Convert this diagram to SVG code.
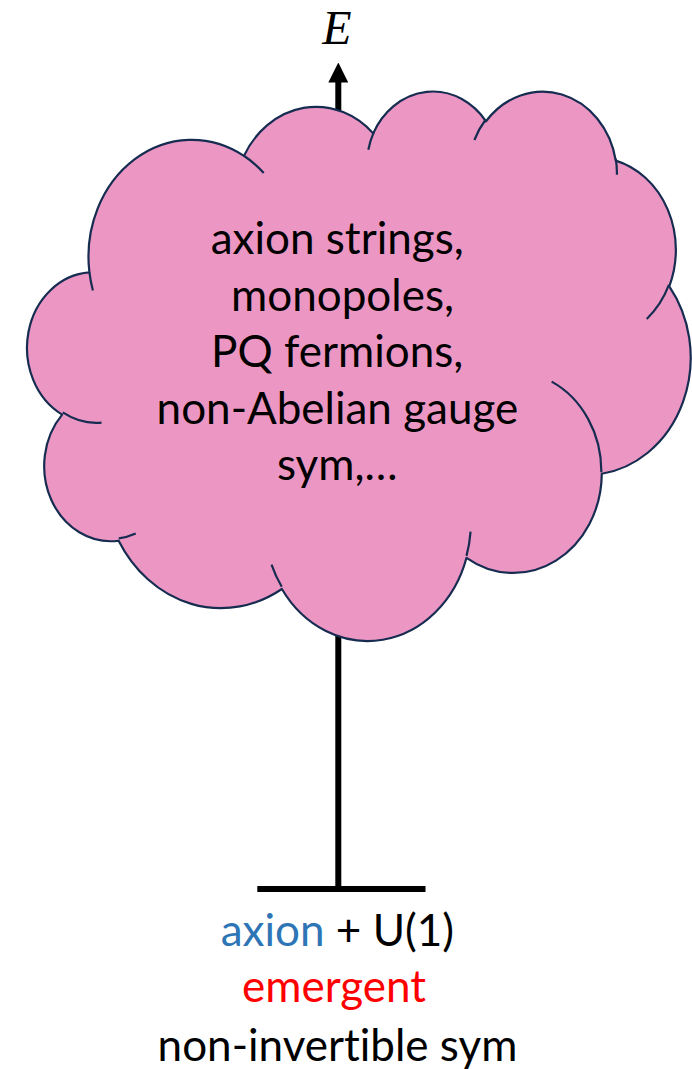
<svg xmlns="http://www.w3.org/2000/svg" width="692" height="1069" viewBox="0 0 692 1069">
  <style>
    .axis { stroke: #000; stroke-width: 6; fill: none; }
    .cloud-fill { fill: #EC97C3; stroke: #172C51; stroke-width: 2.2; stroke-linejoin: round; }
    .cloud-crease { fill: none; stroke: #172C51; stroke-width: 2.2; stroke-linecap: butt; }
    .label { font-family: Lato, "Open Sans", "Liberation Sans", sans-serif; font-size: 44px; text-anchor: middle; fill: #000; font-variant-ligatures: none; font-feature-settings: "liga" 0, "clig" 0; }
    .blue { fill: #2E75B6; }
    .red { fill: #FF0000; }
    .energy { font-family: "Liberation Serif", "DejaVu Serif", serif; font-style: italic; font-size: 48px; text-anchor: middle; fill: #000; }
  </style>
  <defs>
    <marker id="arrowhead" markerUnits="userSpaceOnUse" viewBox="0 0 20 20" refX="0.5" refY="10" markerWidth="20" markerHeight="20" orient="auto">
      <path d="M0,0 L20,10 L0,20 Z" fill="#000"/>
    </marker>
  </defs>

  <!-- energy axis: vertical stem with arrow, base bar -->
  <g id="connectors">
    <line class="axis" x1="338.3" y1="889" x2="338.3" y2="82" marker-end="url(#arrowhead)"/>
    <line class="axis" x1="257.3" y1="889" x2="425.5" y2="889" stroke-width="6.5"/>
  </g>

  <!-- axis label -->
  <g id="energy-label">
    <text class="energy" x="337" y="44">E</text>
  </g>

  <!-- UV cloud (drawn in a 43200-unit shape box, then scaled) -->
  <g id="uv-cloud">
    <g transform="translate(29.8,89.75) scale(0.01529,0.012715)">
      <path class="cloud-fill" vector-effect="non-scaling-stroke" d="M3900,14370
        A6753,9190 0 0 1 14007,5203
        A5333,7267 0 0 1 22459,3430
        A4365,5945 0 0 1 29837,2479
        A4857,6595 0 0 1 38323,5573
        A5333,7273 0 0 1 41823,15457
        A6775,9220 0 0 1 37409,30199
        A5785,7867 0 0 1 28561,36810
        A6752,9215 0 0 1 16486,39263
        A7720,10543 0 0 1 5809,35468
        A4360,5918 0 0 1 2116,25549
        A4345,5945 0 0 1 3900,14370 Z"/>
      <path class="cloud-crease" vector-effect="non-scaling-stroke" d="
        M4693,26177 A4345,5945 0 0 1 2159,25380
        M6928,34899 A4360,5918 0 0 1 5819,35281
        M16478,39090 A6752,9215 0 0 1 15809,37348
        M28827,34751 A6752,9215 0 0 1 28561,36660
        M34129,22954 A5785,7867 0 0 1 37381,30090
        M41798,15354 A5333,7273 0 0 1 40349,18031
        M38324,5426 A4857,6595 0 0 1 38400,6690
        M29078,3952 A4857,6595 0 0 1 29819,2341
        M22141,4720 A4365,5945 0 0 1 22500,3331
        M14000,5192 A6753,9190 0 0 1 15300,6542
        M4127,15789 A6753,9190 0 0 1 3900,14371"/>
    </g>
    <text class="label" x="337.2" y="254">axion strings,</text>
    <text class="label" x="342.5" y="310.5">monopoles,</text>
    <text class="label" x="337.2" y="367">PQ fermions,</text>
    <text class="label" x="337.4" y="423.5">non-Abelian gauge</text>
    <text class="label" x="337.2" y="480">sym,…</text>
  </g>

  <!-- low-energy description -->
  <g id="ir-label">
    <text class="label" x="337.4" y="946"><tspan class="blue">axion</tspan> + U(1)</text>
    <text class="label red" x="334" y="1002">emergent</text>
    <text class="label" x="337.5" y="1061">non-invertible sym</text>
  </g>
</svg>
